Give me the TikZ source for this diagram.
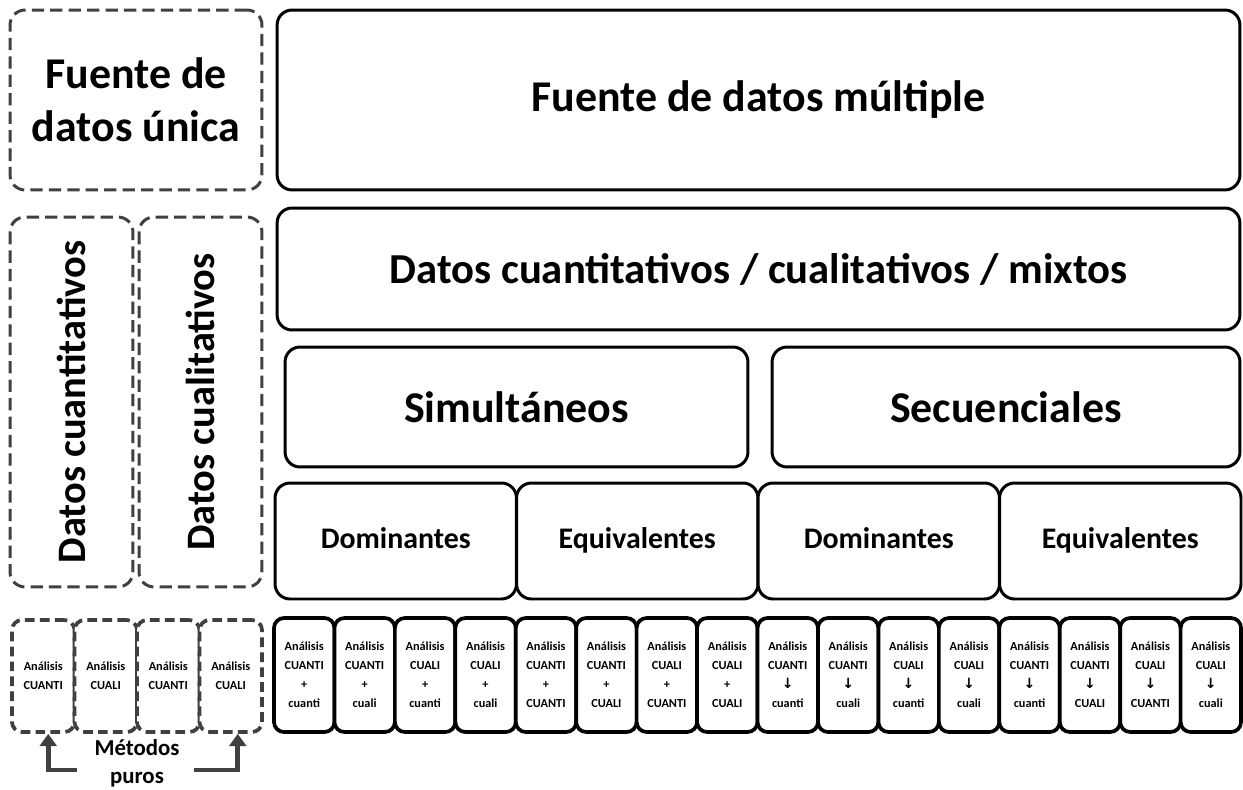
\documentclass[tikz,border=0pt]{standalone}
\usepackage{fontspec}
\setmainfont{Carlito}
\newfontfamily\symfont{DejaVu Sans}
\usetikzlibrary{arrows.meta}
\definecolor{gris}{RGB}{64,64,64}
\newcommand{\flecha}{{\symfont\fontsize{8}{10.8}\selectfont ↓}}
\tikzset{
  caja/.style={draw, line width=1.7pt, rounded corners=0.3cm, fill=white,
    align=center, inner sep=0pt},
  cajadash/.style={caja, draw=gris, dash pattern=on 7pt off 3.5pt},
  cajita/.style={caja, line width=2.1pt, rounded corners=0.2cm,
    font=\fontsize{7}{10.8}\selectfont\bfseries},
  cajitadash/.style={cajita, draw=gris, dash pattern=on 5.5pt off 3pt},
  grande/.style={font=\fontsize{25}{30}\selectfont\bfseries},
  vertical/.style={font=\fontsize{23}{27}\selectfont\bfseries},
  mediano/.style={font=\fontsize{17}{20}\selectfont\bfseries, text height=12pt, text depth=4pt},
  flechagris/.style={draw=gris, line width=2.8pt, -{Triangle[width=9.6pt,length=7pt]}}
}
\begin{document}
\begin{tikzpicture}[x=0.02cm,y=-0.02cm]
\useasboundingbox[fill=white] (0,0) rectangle (1243,790);

% Fuentes de datos
\node[cajadash, grande, minimum width=5.04cm, minimum height=3.6cm] (unica) at (136,100) {Fuente de\\datos única};
\node[caja, grande, minimum width=19.26cm, minimum height=3.6cm] (multiple) at (758.5,100) {Fuente de datos múltiple};

% Tipos de datos
\node[cajadash, vertical, rotate=90, minimum width=7.4cm, minimum height=2.46cm] (cuant) at (71.5,402) {Datos cuantitativos};
\node[cajadash, vertical, rotate=90, minimum width=7.4cm, minimum height=2.46cm] (cual) at (200.5,402) {Datos cualitativos};
\node[caja, font=\fontsize{24.3}{28}\selectfont\bfseries, minimum width=19.26cm, minimum height=2.44cm] (mixtos) at (758.5,269) {Datos cuantitativos / cualitativos / mixtos};

% Momento
\node[caja, grande, minimum width=9.26cm, minimum height=2.4cm] (simul) at (516.5,407) {Simultáneos};
\node[caja, grande, minimum width=9.36cm, minimum height=2.4cm] (secuen) at (1006,407) {Secuenciales};

% Peso
\foreach \t [count=\i] in {Dominantes, Equivalentes, Dominantes, Equivalentes}
  \node[caja, mediano, minimum width=4.83cm, minimum height=2.32cm] (peso\i) at ({275+(\i-0.5)*241.5},541) {\t};

% Analisis mixtos
\foreach \a/\b/\c [count=\i] in {CUANTI/+/cuanti, CUANTI/+/cuali, CUALI/+/cuanti, CUALI/+/cuali,
    CUANTI/+/CUANTI, CUANTI/+/CUALI, CUALI/+/CUANTI, CUALI/+/CUALI,
    CUANTI/\flecha/cuanti, CUANTI/\flecha/cuali, CUALI/\flecha/cuanti, CUALI/\flecha/cuali,
    CUANTI/\flecha/cuanti, CUANTI/\flecha/CUALI, CUALI/\flecha/CUANTI, CUALI/\flecha/cuali}
  \node[cajita, minimum width=1.209cm, minimum height=2.28cm] (mix\i) at ({274+(\i-0.5)*60.44},675) {Análisis\\\a\\\b\\\c};

% Metodos puros
\foreach \a [count=\i] in {CUANTI, CUALI, CUANTI, CUALI}
  \node[cajitadash, minimum width=1.25cm, minimum height=2.24cm] (puro\i) at ({12+(\i-0.5)*62.5},676) {Análisis\\\a};

\node[font=\fontsize{13}{16}\selectfont\bfseries, align=center, inner sep=0pt] (metodos) at (137,763) {Métodos\\puros};
\draw[flechagris] ([xshift=-0.34cm,yshift=-0.14cm]metodos.west) -| ([xshift=0.1cm]puro1.south);
\draw[flechagris] ([xshift=0.28cm,yshift=-0.14cm]metodos.east) -| ([xshift=0.14cm]puro4.south);
\end{tikzpicture}
\end{document}
